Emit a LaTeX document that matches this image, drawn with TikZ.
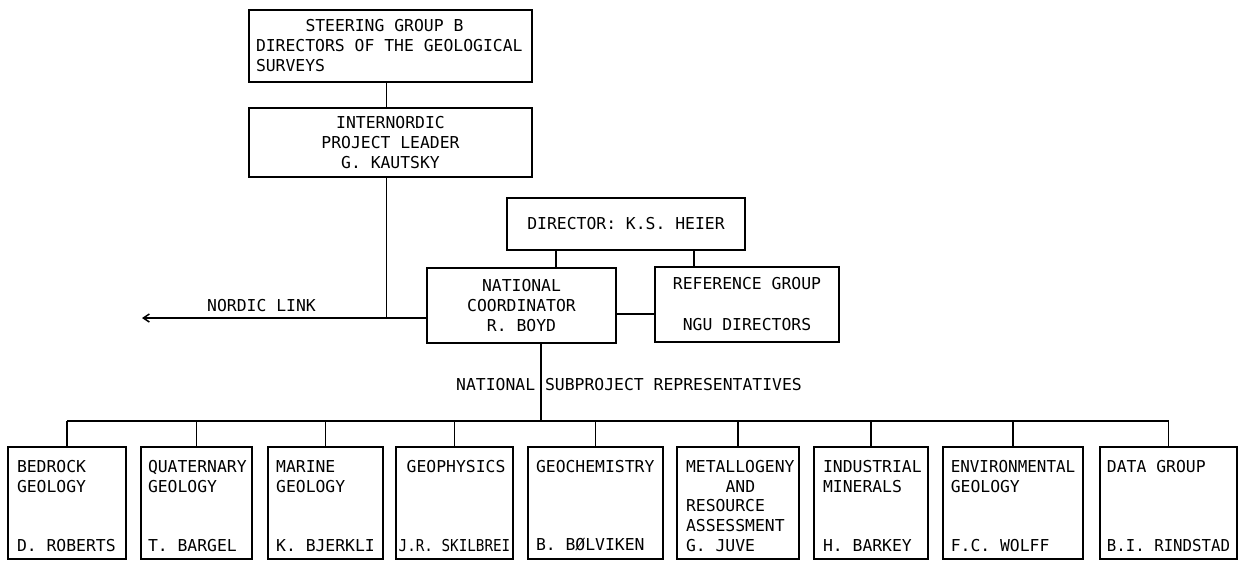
\documentclass[tikz,border=0pt]{standalone}
\usepackage{graphicx}
\usepackage{fontspec}
\setmainfont{DejaVu Sans Mono}
\usetikzlibrary{arrows.meta,calc}
\newcommand\myup{\rule{0pt}{18pt}}
\begin{document}
\begin{tikzpicture}[x=1pt,y=-1pt,
  line/.style={line width=1.5pt},
  box/.style={draw,line width=1.5pt,inner sep=0pt},
  txt/.style={font=\fontsize{16.4}{20}\selectfont},
  bb/.style={box,align=left,minimum height=112pt,font=\fontsize{16.4}{19.6}\selectfont}]
\useasboundingbox (0,0) rectangle (1242,562);

% upper boxes
\node[box,txt,minimum width=283pt,minimum height=72pt,align=left] (steer) at (390.5,46)
  {\makebox[269pt][l]{\hspace*{49.5pt}STEERING GROUP B}\\DIRECTORS OF THE GEOLOGICAL\\SURVEYS};
\node[box,txt,minimum width=283pt,minimum height=69pt,align=center] (inord) at (390.5,142.5)
  {INTERNORDIC\\PROJECT LEADER\\G. KAUTSKY};
\node[box,txt,minimum width=238pt,minimum height=52pt] (dir) at (626,224) {DIRECTOR: K.S. HEIER};
\node[box,txt,minimum width=189pt,minimum height=75pt,align=center] (nc) at (521.5,305.5)
  {NATIONAL\\COORDINATOR\\R. BOYD};
\node[box,txt,minimum width=184pt,minimum height=75pt,align=center] (rg) at (747,304.5)
  {REFERENCE GROUP\\[21pt]NGU DIRECTORS};

% bottom boxes
\node[bb,minimum width=118pt] (bed) at (67,503)
  {\myup\makebox[100pt][l]{BEDROCK}\\GEOLOGY\\\mbox{}\\\mbox{}\\D. ROBERTS};
\node[bb,minimum width=111pt] (quat) at (196.5,503)
  {\myup\makebox[97pt][l]{QUATERNARY}\\GEOLOGY\\\mbox{}\\\mbox{}\\T. BARGEL};
\node[bb,minimum width=115pt] (mar) at (325.5,503)
  {\myup\makebox[97pt][l]{MARINE}\\GEOLOGY\\\mbox{}\\\mbox{}\\K. BJERKLI};
\node[bb,minimum width=117pt] (geoph) at (454.5,503)
  {\myup\hspace*{8pt}GEOPHYSICS\\\mbox{}\\\mbox{}\\\mbox{}\\\scalebox{0.87}[1]{J.R. SKILBREI}};
\node[bb,minimum width=135pt] (geoch) at (595.5,503)
  {\myup\makebox[119pt][l]{GEOCHEMISTRY}\\\mbox{}\\\mbox{}\\\mbox{}\\B. BØLVIKEN};
\node[bb,minimum width=122pt] (met) at (738,503)
  {\myup\makebox[104pt][l]{METALLOGENY}\\\hspace*{39.6pt}AND\\RESOURCE\\ASSESSMENT\\G. JUVE};
\node[bb,minimum width=114pt] (ind) at (871,503)
  {\myup\makebox[96pt][l]{INDUSTRIAL}\\MINERALS\\\mbox{}\\\mbox{}\\H. BARKEY};
\node[bb,minimum width=140pt] (env) at (1013,503)
  {\myup\scalebox{0.97}[1]{ENVIRONMENTAL}\\GEOLOGY\\\mbox{}\\\mbox{}\\F.C. WOLFF};
\node[bb,minimum width=137pt] (data) at (1168.5,503)
  {\myup\makebox[121pt][l]{DATA GROUP}\\\mbox{}\\\mbox{}\\\mbox{}\\\scalebox{0.96}[1]{B.I. RINDSTAD}};

% texts
\node[txt] (nlt) at (261.5,306) {NORDIC LINK};
\node[txt,anchor=west,inner sep=0pt] (nsr) at (456,385) {NATIONAL SUBPROJECT REPRESENTATIVES};

% helper coordinates
\coordinate (xi) at (386.5,0);
\coordinate (nl) at (142,318);
\coordinate (xa) at (556,0);
\coordinate (xb) at (694,0);
\coordinate (yl) at (0,314);
\coordinate (xv) at (541,0);
\coordinate (bus) at (0,421);

% connectors
\draw[line] (steer.south -| xi) -- (inord.north -| xi);
\draw[line] (inord.south -| xi) -- (nl -| xi);
\draw[line,-{Straight Barb[length=6pt,width=8pt]}] (nc.west |- nl) -- (nl);
\draw[line] (dir.south -| xa) -- (nc.north -| xa);
\draw[line] (dir.south -| xb) -- (rg.north -| xb);
\draw[line] (nc.east |- yl) -- (rg.west |- yl);
\draw[line] (nc.south -| xv) -- (bus -| xv);
\draw[line] (bed.north |- bus) -- (data.north |- bus);
\foreach \n in {bed,quat,mar,geoph,geoch,met,ind,env,data}
  \draw[line] (\n.north |- bus) -- (\n.north);
\end{tikzpicture}
\end{document}
